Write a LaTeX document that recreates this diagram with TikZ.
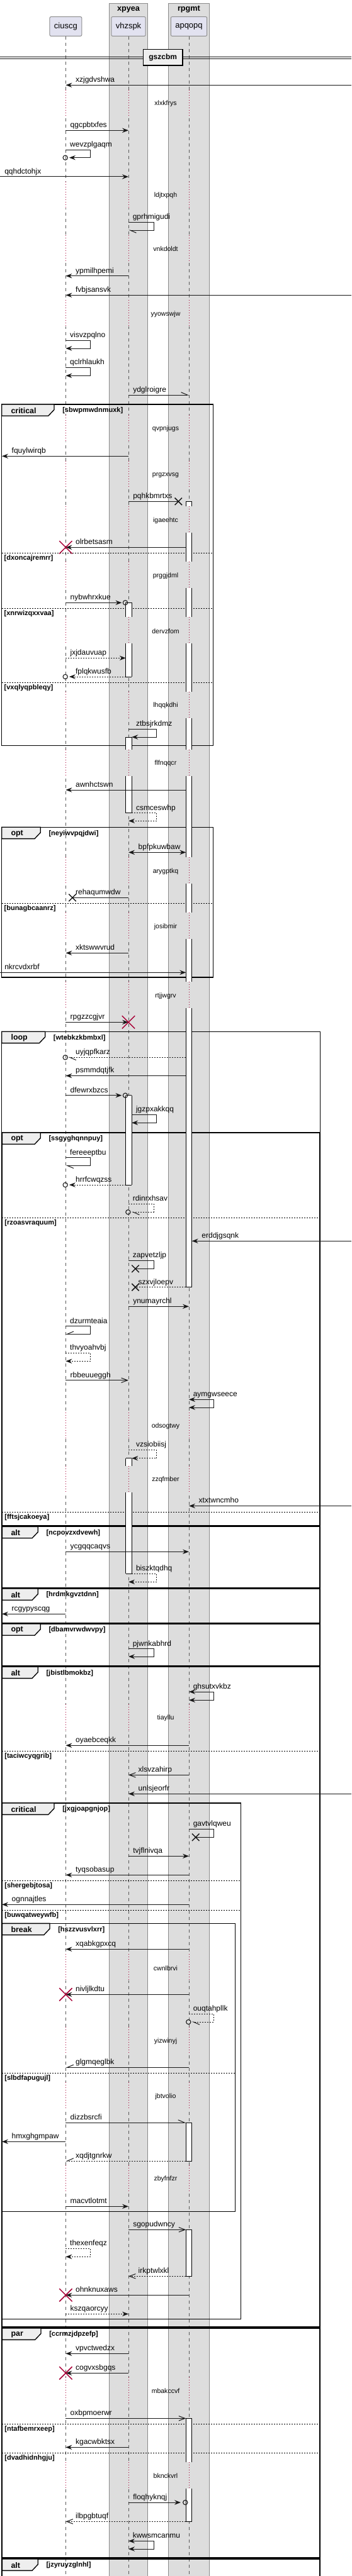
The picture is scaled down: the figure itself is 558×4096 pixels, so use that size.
\documentclass[tikz,border=0pt]{standalone}
\usepackage{fontspec}
\setmainfont{Liberation Sans}
\usetikzlibrary{positioning}
\usetikzlibrary{arrows.meta}
\usetikzlibrary{shapes.misc}
\definecolor{lavender}{HTML}{E2E2F0}
\definecolor{partline}{HTML}{8F8F8F}
\definecolor{boxgray}{HTML}{DDDDDD}
\definecolor{boxline}{HTML}{8A8A8A}
\definecolor{tabgray}{HTML}{EEEEEE}
\definecolor{crimson}{HTML}{A80036}
\definecolor{lifegray}{HTML}{5A5A5A}
\definecolor{ink}{HTML}{181818}

% message, label at its left end: style, from, to, y, text
\newcommand\msgr[5]{%
  \draw[#1] (#2|-0,#4) -- (#3|-0,#4);
  \node[mlbl, xshift=5.25pt] (m-#5) at (#2|-0,#4) {#5};}
% message pointing left, label after the tip
\newcommand\msgl[5]{%
  \draw[#1] (#2|-0,#4) -- (#3|-0,#4);
  \node[mlbl, xshift=11.6pt] (m-#5) at (#3|-0,#4) {#5};}
% self message: style, start, turn, end, y1, y2, label base, text
\newcommand\selfmsg[8]{%
  \draw[#1] (#2|-0,#5) -- (#3|-0,#5) -- (#3|-0,#6) -- (#4|-0,#6);
  \node[mlbl, xshift=4.9pt] (m-#8) at (#7|-0,#5) {#8};}
% delay: y, text
\newcommand\seqdelay[2]{%
  \foreach \lx/\bg in {104.4/white,204/boxgray,300/boxgray}{
    \fill[\bg] (\lx-1.6,#1-22) rectangle (\lx+1.6,#1+20);
    \draw[dly] (\lx,#1-22) -- (\lx,#1+20);}
  \node[dlbl] (d-#2) at (263,#1) {#2};}
% activation bar: x, y1, y2, top (t/o), bottom (t/o)
\newcommand\actbar[5]{%
  \fill[white] (#1-4.7,#2) rectangle (#1+4.7,#3);
  \draw[actl] (#1-4.7,#2) -- (#1-4.7,#3) (#1+4.7,#2) -- (#1+4.7,#3);
  \if t#4\draw[actl] (#1-4.7,#2) -- (#1+4.7,#2);\fi
  \if t#5\draw[actl] (#1-4.7,#3) -- (#1+4.7,#3);\fi}
% fragment: x1, y1, x2, y2, kind, tab right, guard
\newcommand\fragbox[7]{%
  \draw[frm] (#1,#2) rectangle (#3,#4);
  \filldraw[tabsh] (#1,#2) -- (#6,#2) -- (#6,#2+8.5) -- (#6-9.3,#2+18.3) -- (#1,#2+18.3) -- cycle;
  \node[tabl] (k-#7) at (17.3,#2+10) {#5};
  \node[guard] (g-#7) at (#6+13,#2+10) {[#7]};}
% else line: x1, x2, y, guard
\newcommand\elsepart[4]{%
  \draw[elsel] (#1,#3) -- (#2,#3);
  \node[guard] (g-#4) at (#1+3.7,#3+8) {[#4]};}

\begin{document}
\begin{tikzpicture}[
    x=0.75pt, y=-0.75pt,
    % node styles
    ptcp/.style = {draw=partline, fill=lavender, rounded corners=1.5pt,
      minimum height=23pt, inner xsep=5.25pt, line width=0.75pt,
      font=\fontsize{9.75}{11}\selectfont},
    boxttl/.style = {font=\bfseries\fontsize{9.5}{11}\selectfont},
    divbox/.style = {draw=black, fill=tabgray, line width=1.3pt,
      minimum width=47pt, minimum height=19pt,
      font=\bfseries\fontsize{9}{10}\selectfont},
    mlbl/.style = {anchor=base west, inner sep=0pt, yshift=3.4pt,
      font=\fontsize{9}{10}\selectfont},
    dlbl/.style = {inner sep=0pt, font=\fontsize{7.9}{9}\selectfont},
    tabl/.style = {anchor=west, inner sep=0pt, font=\bfseries\fontsize{9.3}{11}\selectfont},
    guard/.style = {anchor=west, inner sep=0pt, font=\bfseries\fontsize{8.25}{10}\selectfont},
    xmark/.style = {cross out, draw=ink, line width=1.1pt, minimum size=7.5pt, inner sep=0pt},
    kill/.style = {cross out, draw=crimson, line width=1.1pt, minimum size=14.2pt, inner sep=0pt},
    ocirc/.style = {circle, draw=ink, line width=0.8pt, minimum size=5.5pt, inner sep=0pt},
    % line styles
    boxbg/.style = {fill=boxgray, draw=boxline, line width=0.75pt},
    life/.style = {draw=lifegray, line width=0.75pt, dash pattern=on 3.75pt off 3.75pt},
    dly/.style = {draw=crimson, line width=0.75pt, dash pattern=on 0.75pt off 2.25pt},
    frm/.style = {draw=black, line width=1.1pt},
    tabsh/.style = {fill=tabgray, draw=black, line width=1pt},
    elsel/.style = {draw=black, line width=0.75pt, dash pattern=on 1.5pt off 1.5pt},
    actl/.style = {draw=black, line width=0.75pt},
    % arrow styles
    bare/.style = {draw=ink, line width=0.75pt},
    dbare/.style = {bare, dash pattern=on 1.5pt off 1.5pt},
    msg/.style = {bare, -{Stealth[length=7.5pt, width=5.6pt, inset=2.6pt]}},
    dmsg/.style = {msg, dash pattern=on 1.5pt off 1.5pt},
    opn/.style = {bare, -{Straight Barb[length=7.5pt, width=5.6pt]}},
    dopn/.style = {opn, dash pattern=on 1.5pt off 1.5pt},
    hlf/.style = {bare, -{Straight Barb[harpoon, length=7.5pt, width=6.4pt]}},
    hlfs/.style = {bare, -{Straight Barb[harpoon, swap, length=7.5pt, width=6.4pt]}},
    dhlf/.style = {hlf, dash pattern=on 1.5pt off 1.5pt},
    dhlfs/.style = {hlfs, dash pattern=on 1.5pt off 1.5pt},
    bidi/.style = {bare, {Stealth[length=7.5pt, width=5.6pt, inset=2.6pt]}-{Stealth[length=7.5pt, width=5.6pt, inset=2.6pt]}}
  ]
  \useasboundingbox (0,0) rectangle (558,4096);

  % --- Boxes and participants
  \path[boxbg] (173.7,6) rectangle (234.3,4110);
  \path[boxbg] (267.3,6) rectangle (332.7,4110);
  \node[boxttl] (xpyea) at (204,15) {xpyea};
  \node[boxttl] (rpgmt) at (300,15) {rpgmt};

  \node[ptcp] (ciuscg) at (104.4,42) {ciuscg};
  \node[ptcp] (vhzspk) at (204,42) {vhzspk};
  \node[ptcp] (apqopq) at (300,42) {apqopq};

  \coordinate (eL) at (0,0);
  \coordinate (fL) at (3,0);
  \coordinate (eR) at (558,0);
  \coordinate (vL) at (199.8,0);
  \coordinate (vR) at (209.2,0);
  \coordinate (aL) at (295.3,0);
  \coordinate (aR) at (304.7,0);
  \coordinate (sc) at (143.7,0);
  \coordinate (sv) at (244,0);
  \coordinate (svA) at (248.7,0);
  \coordinate (sa) at (339.3,0);

  % --- Lifelines
  \draw[life] (ciuscg.south) -- (ciuscg|-0,4096);
  \draw[life] (vhzspk.south) -- (vhzspk|-0,4096);
  \draw[life] (apqopq.south) -- (apqopq|-0,4096);

  \seqdelay{165}{xlxkfrys}
  \seqdelay{311}{ldjtxpqh}
  \seqdelay{396}{vnkdoldt}
  \seqdelay{499.3}{yyowswjw}
  \seqdelay{682}{qvpnjugs}
  \seqdelay{755.3}{prgzxvsg}
  \seqdelay{827.3}{igaeehtc}
  \seqdelay{915.3}{prggjdml}
  \seqdelay{1003.3}{dervzfom}
  \seqdelay{1122}{lhqqkdhi}
  \seqdelay{1214}{flfnqqcr}
  \seqdelay{1385.3}{arygptkq}
  \seqdelay{1473.3}{josibmir}
  \seqdelay{1583.3}{rtjjwgrv}
  \seqdelay{2268}{odsogtwy}
  \seqdelay{2353}{zzqfmber}
  \seqdelay{2732}{tiayllu}
  \seqdelay{3129.3}{cwnlbrvi}
  \seqdelay{3245.3}{yizwinyj}
  \seqdelay{3333.3}{jbtvolio}
  \seqdelay{3465}{zbyfnfzr}
  \seqdelay{3802}{mbakccvf}
  \seqdelay{3937}{bknckvrl}

  % --- Divider
  \draw[bare] (0,90.3) -- (558,90.3) (0,93.2) -- (558,93.2);
  \node[divbox] (gszcbm) at (258.7,91.2) {gszcbm};

  % --- Fragments
  \fragbox{2.7}{643}{338.7}{1185.3}{critical}{86}{sbwpmwdnmuxk}
  \elsepart{2.7}{338.7}{879.3}{dxoncajremrr}
  \elsepart{2.7}{338.7}{967.3}{xnrwizqxxvaa}
  \elsepart{2.7}{338.7}{1085.3}{vxqlyqpbleqy}
  \fragbox{2.7}{1315.3}{338.7}{1554}{opt}{64.3}{neyiwvpqjdwi}
  \elsepart{2.7}{338.7}{1436.3}{bunagbcaanrz}
  \fragbox{2.7}{1640.3}{508.7}{4110}{loop}{71.7}{wtebkzkbmbxl}
  \fragbox{3.4}{1801}{507.3}{2426}{opt}{64.3}{ssgyghqnnpuy}
  \elsepart{3.4}{507.3}{1936.7}{rzoasvraquum}
  \elsepart{3.4}{507.3}{2404.3}{fftsjcakoeya}
  \fragbox{3.4}{2427.5}{507.3}{2524.7}{alt}{60.3}{ncpovzxdvewh}
  \fragbox{3.4}{2526}{507.3}{2580.7}{alt}{60.3}{hrdmkgvztdnn}
  \fragbox{3.4}{2582}{507.3}{2649}{opt}{64.3}{dbamvrwdwvpy}
  \fragbox{3.4}{2650.3}{507.3}{3700}{alt}{60.3}{jbistlbmokbz}
  \elsepart{3.4}{507.3}{2784.3}{taciwcyqgrib}
  \fragbox{3.4}{2867}{382.7}{3687.3}{critical}{86}{jxgjoapgnjop}
  \elsepart{3.4}{382.7}{2990.3}{shergebjtosa}
  \elsepart{3.4}{382.7}{3037.3}{buwqatweywfb}
  \fragbox{3.4}{3058.3}{373.3}{3516.7}{break}{79}{hszzvusvlxrr}
  \elsepart{3.4}{373.3}{3296.3}{slbdfapugujl}
  \fragbox{3.4}{3702}{507.3}{4067}{par}{65}{ccrmzjdpzefp}
  \elsepart{3.4}{507.3}{3854.3}{ntafbemrxeep}
  \elsepart{3.4}{507.3}{3900.3}{dvadhidnhgju}
  \fragbox{3.4}{4069}{507.3}{4110}{alt}{60.3}{jzyruyzglnhl}

  % --- Activations
  \actbar{300}{797.3}{805.3}{t}{o}
  \actbar{300}{847.3}{893.3}{o}{o}
  \actbar{300}{935.3}{981.3}{o}{o}
  \actbar{300}{1023.3}{1100}{o}{o}
  \actbar{300}{1142}{1192}{o}{o}
  \actbar{300}{1234}{1363.3}{o}{o}
  \actbar{300}{1405.3}{1451.3}{o}{o}
  \actbar{300}{1493.3}{1561.3}{o}{o}
  \actbar{300}{1603.3}{2046.7}{o}{t}
  \actbar{204.5}{958.3}{981.3}{t}{o}
  \actbar{204.5}{1023.3}{1076}{o}{t}
  \actbar{204.5}{1172}{1192}{t}{o}
  \actbar{204.5}{1234}{1292.7}{o}{t}
  \actbar{204.5}{1741.7}{1884}{t}{t}
  \actbar{204.5}{2318.7}{2331}{t}{o}
  \actbar{204.5}{2373}{2502.3}{o}{t}
  \actbar{300}{3375}{3436}{t}{t}
  \actbar{300}{3545.3}{3619.3}{t}{t}
  \actbar{300}{3845.3}{3915}{t}{o}
  \actbar{300}{3957}{4009.3}{o}{t}

  % --- Messages
  \msgl{msg}{eR}{ciuscg}{135.3}{xzjgdvshwa}
  \msgr{msg}{ciuscg}{vhzspk}{207.3}{qgcpbtxfes}
  \selfmsg{msg, shorten >=4.1pt}{ciuscg}{sc}{ciuscg}{238.3}{250.7}{ciuscg}{wevzplgaqm}
  \node[ocirc] (o1) at (103.7,250.7) {};
  \msgr{msg}{eL}{vhzspk}{281}{qqhdctohjx}
  \selfmsg{hlf}{vhzspk}{sv}{vhzspk}{353.3}{366}{vhzspk}{gprhmigudi}
  \msgl{msg}{vhzspk}{ciuscg}{438.7}{ypmilhpemi}
  \msgl{msg}{eR}{ciuscg}{469.3}{fvbjsansvk}
  \selfmsg{msg}{ciuscg}{sc}{ciuscg}{541.3}{554}{ciuscg}{visvzpqlno}
  \selfmsg{msg}{ciuscg}{sc}{ciuscg}{584.3}{597.3}{ciuscg}{qclrhlaukh}
  \msgr{hlf}{vhzspk}{apqopq}{628}{ydglroigre}
  \msgl{msg}{vhzspk}{fL}{725.3}{fquylwirqb}
  \node[xmark] (x1) at (283.3,797.3) {};
  \msgr{bare}{vhzspk}{x1}{797.3}{pqhkbmrtxs}
  \msgl{msg}{aL}{ciuscg}{870.3}{olrbetsasm}
  \node[kill] (k1) at (ciuscg|-0,870.3) {};
  \msgr{msg, shorten >=4.8pt}{ciuscg}{vL}{958.3}{nybwhrxkue}
  \node[ocirc] (o2) at (199,958.3) {};
  \msgr{dmsg}{ciuscg}{vL}{1046.3}{jxjdauvuap}
  \msgl{dmsg, shorten >=4.1pt}{vL}{ciuscg}{1076}{fplqkwusfb}
  \node[ocirc] (o3) at (103.7,1076) {};
  \selfmsg{msg}{vhzspk}{svA}{vR}{1159.3}{1172}{vR}{ztbsjrkdmz}
  \msgl{msg}{aL}{ciuscg}{1256}{awnhctswn}
  \selfmsg{dmsg}{vR}{svA}{vhzspk}{1292.7}{1305.3}{vR}{csmceswhp}
  \msgl{bidi}{aL}{vhzspk}{1355.3}{bpfpkuwbaw}
  \node[xmark] (x2) at (115,1427.3) {};
  \draw[bare] (vhzspk|-0,1427.3) -- (x2.center);
  \node[mlbl, xshift=11.6pt] (m-rehaqumwdw) at (ciuscg|-0,1427.3) {rehaqumwdw};
  \msgl{msg}{vhzspk}{ciuscg}{1515.3}{xktswwvrud}
  \msgr{msg}{eL}{aL}{1546.3}{nkrcvdxrbf}
  \msgr{msg}{ciuscg}{vhzspk}{1625.3}{rpgzzcgjvr}
  \node[kill] (k2) at (vhzspk|-0,1625.3) {};
  \msgl{dhlf, shorten >=3pt}{aL}{ciuscg}{1681.3}{uyjqpfkarz}
  \node[ocirc] (o4) at (103.7,1681.3) {};
  \msgl{msg}{aL}{ciuscg}{1710.5}{psmmdqtjfk}
  \msgr{msg, shorten >=4.8pt}{ciuscg}{vL}{1741.7}{dfewrxbzcs}
  \node[ocirc] (o5) at (199,1741.7) {};
  \selfmsg{msg}{vR}{svA}{vR}{1772.3}{1785.3}{vR}{jgzpxakkqq}
  \selfmsg{hlf}{ciuscg}{sc}{ciuscg}{1840.7}{1853.3}{ciuscg}{fereeeptbu}
  \msgl{dmsg, shorten >=4.1pt}{vL}{ciuscg}{1884}{hrrfcwqzss}
  \node[ocirc] (o6) at (103.7,1884) {};
  \selfmsg{dhlf, shorten >=3.75pt}{vhzspk}{sv}{vhzspk}{1914.3}{1927.3}{vhzspk}{rdinrxhsav}
  \node[ocirc] (o7) at (203.4,1927.3) {};
  \msgl{msg}{eR}{aR}{1973.3}{erddjgsqnk}
  \node[xmark] (x3) at (215,2017.3) {};
  \selfmsg{bare}{vhzspk}{sv}{x3}{2004.3}{2017.3}{vhzspk}{zapvetzljp}
  \node[xmark] (x4) at (215,2046.7) {};
  \draw[dbare] (aL|-0,2046.7) -- (x4.center);
  \node[mlbl, xshift=11.6pt] (m-szxvjloepv) at (vhzspk|-0,2046.7) {szxvjloepv};
  \msgr{msg}{vhzspk}{apqopq}{2077.3}{ynumayrchl}
  \selfmsg{hlfs}{ciuscg}{sc}{ciuscg}{2108.7}{2121.3}{ciuscg}{dzurmteaia}
  \selfmsg{dmsg}{ciuscg}{sc}{ciuscg}{2151.3}{2164.3}{ciuscg}{thvyoahvbj}
  \msgr{opn}{ciuscg}{vhzspk}{2194.7}{rbbeuueggh}
  \selfmsg{bidi}{apqopq}{sa}{apqopq}{2225.3}{2238}{apqopq}{aymgwseece}
  \selfmsg{dmsg}{vhzspk}{svA}{vR}{2305.3}{2318.7}{vR}{vzsiobiisj}
  \msgl{msg}{eR}{apqopq}{2394.5}{xtxtwncmho}
  \msgr{msg}{ciuscg}{apqopq}{2467.3}{ycgqqcaqvs}
  \selfmsg{dmsg}{vR}{svA}{vhzspk}{2502.3}{2515.3}{vR}{biszktqdhq}
  \msgl{msg}{ciuscg}{fL}{2566.3}{rcgypyscqg}
  \selfmsg{msg}{vhzspk}{sv}{vhzspk}{2621.7}{2634}{vhzspk}{pjwnkabhrd}
  \selfmsg{bidi}{apqopq}{sa}{apqopq}{2690}{2703.3}{apqopq}{ghsutxvkbz}
  \msgl{msg}{apqopq}{ciuscg}{2775.3}{oyaebceqkk}
  \msgl{opn}{apqopq}{vhzspk}{2822.3}{xlsvzahirp}
  \msgl{msg}{eR}{vhzspk}{2852.3}{unlsjeorfr}
  \node[xmark] (x5) at (310.7,2921.3) {};
  \selfmsg{bare}{apqopq}{sa}{x5}{2908.3}{2921.3}{apqopq}{gavtvlqweu}
  \msgr{msg}{vhzspk}{apqopq}{2951.3}{tvjflnivqa}
  \msgl{msg}{apqopq}{ciuscg}{2981.3}{tyqsobasup}
  \msgl{msg}{apqopq}{fL}{3028.3}{ognnajtles}
  \msgl{msg}{apqopq}{ciuscg}{3099.3}{xqabkgpxcq}
  \msgl{msg}{apqopq}{ciuscg}{3171.3}{nivljlkdtu}
  \node[kill] (k3) at (ciuscg|-0,3171.3) {};
  \selfmsg{dhlf, shorten >=3.5pt}{apqopq}{sa}{apqopq}{3202.3}{3215}{apqopq}{ouqtahpllk}
  \node[ocirc] (o8) at (299.3,3215) {};
  \msgl{hlfs}{apqopq}{ciuscg}{3287.3}{glgmqeglbk}
  \msgr{hlf}{ciuscg}{aL}{3375}{dizzbsrcfi}
  \msgl{msg}{ciuscg}{fL}{3405.3}{hmxghgmpaw}
  \msgl{dhlfs}{aL}{ciuscg}{3436}{xqdjtgnrkw}
  \msgr{msg}{ciuscg}{vhzspk}{3508.3}{macvtlotmt}
  \msgr{opn}{vhzspk}{aL}{3545.3}{sgopudwncy}
  \selfmsg{dmsg}{ciuscg}{sc}{ciuscg}{3575.3}{3588.3}{ciuscg}{thexenfeqz}
  \msgl{dopn}{aL}{vhzspk}{3619.3}{irkptwlxkl}
  \msgl{msg}{apqopq}{ciuscg}{3649.3}{ohnknuxaws}
  \node[kill] (k4) at (ciuscg|-0,3649.3) {};
  \msgr{dmsg}{ciuscg}{vhzspk}{3679.3}{kszqaorcyy}
  \msgl{msg}{vhzspk}{ciuscg}{3742.3}{vpvctwedzx}
  \msgl{msg}{vhzspk}{ciuscg}{3773.3}{cogvxsbgqs}
  \node[kill] (k5) at (ciuscg|-0,3773.3) {};
  \msgr{opn}{ciuscg}{aL}{3845.3}{oxbpmoerwr}
  \msgl{msg}{vhzspk}{ciuscg}{3891.3}{kgacwbktsx}
  \msgr{msg, shorten >=6.2pt}{vhzspk}{aL}{3979}{floqhyknqj}
  \node[ocirc] (o9) at (294.3,3979) {};
  \msgl{dopn}{aL}{ciuscg}{4009.3}{ilbpgbtuqf}
  \selfmsg{bidi}{vhzspk}{sv}{vhzspk}{4040.3}{4053}{vhzspk}{kwwsmcanmu}

\end{tikzpicture}
\end{document}
